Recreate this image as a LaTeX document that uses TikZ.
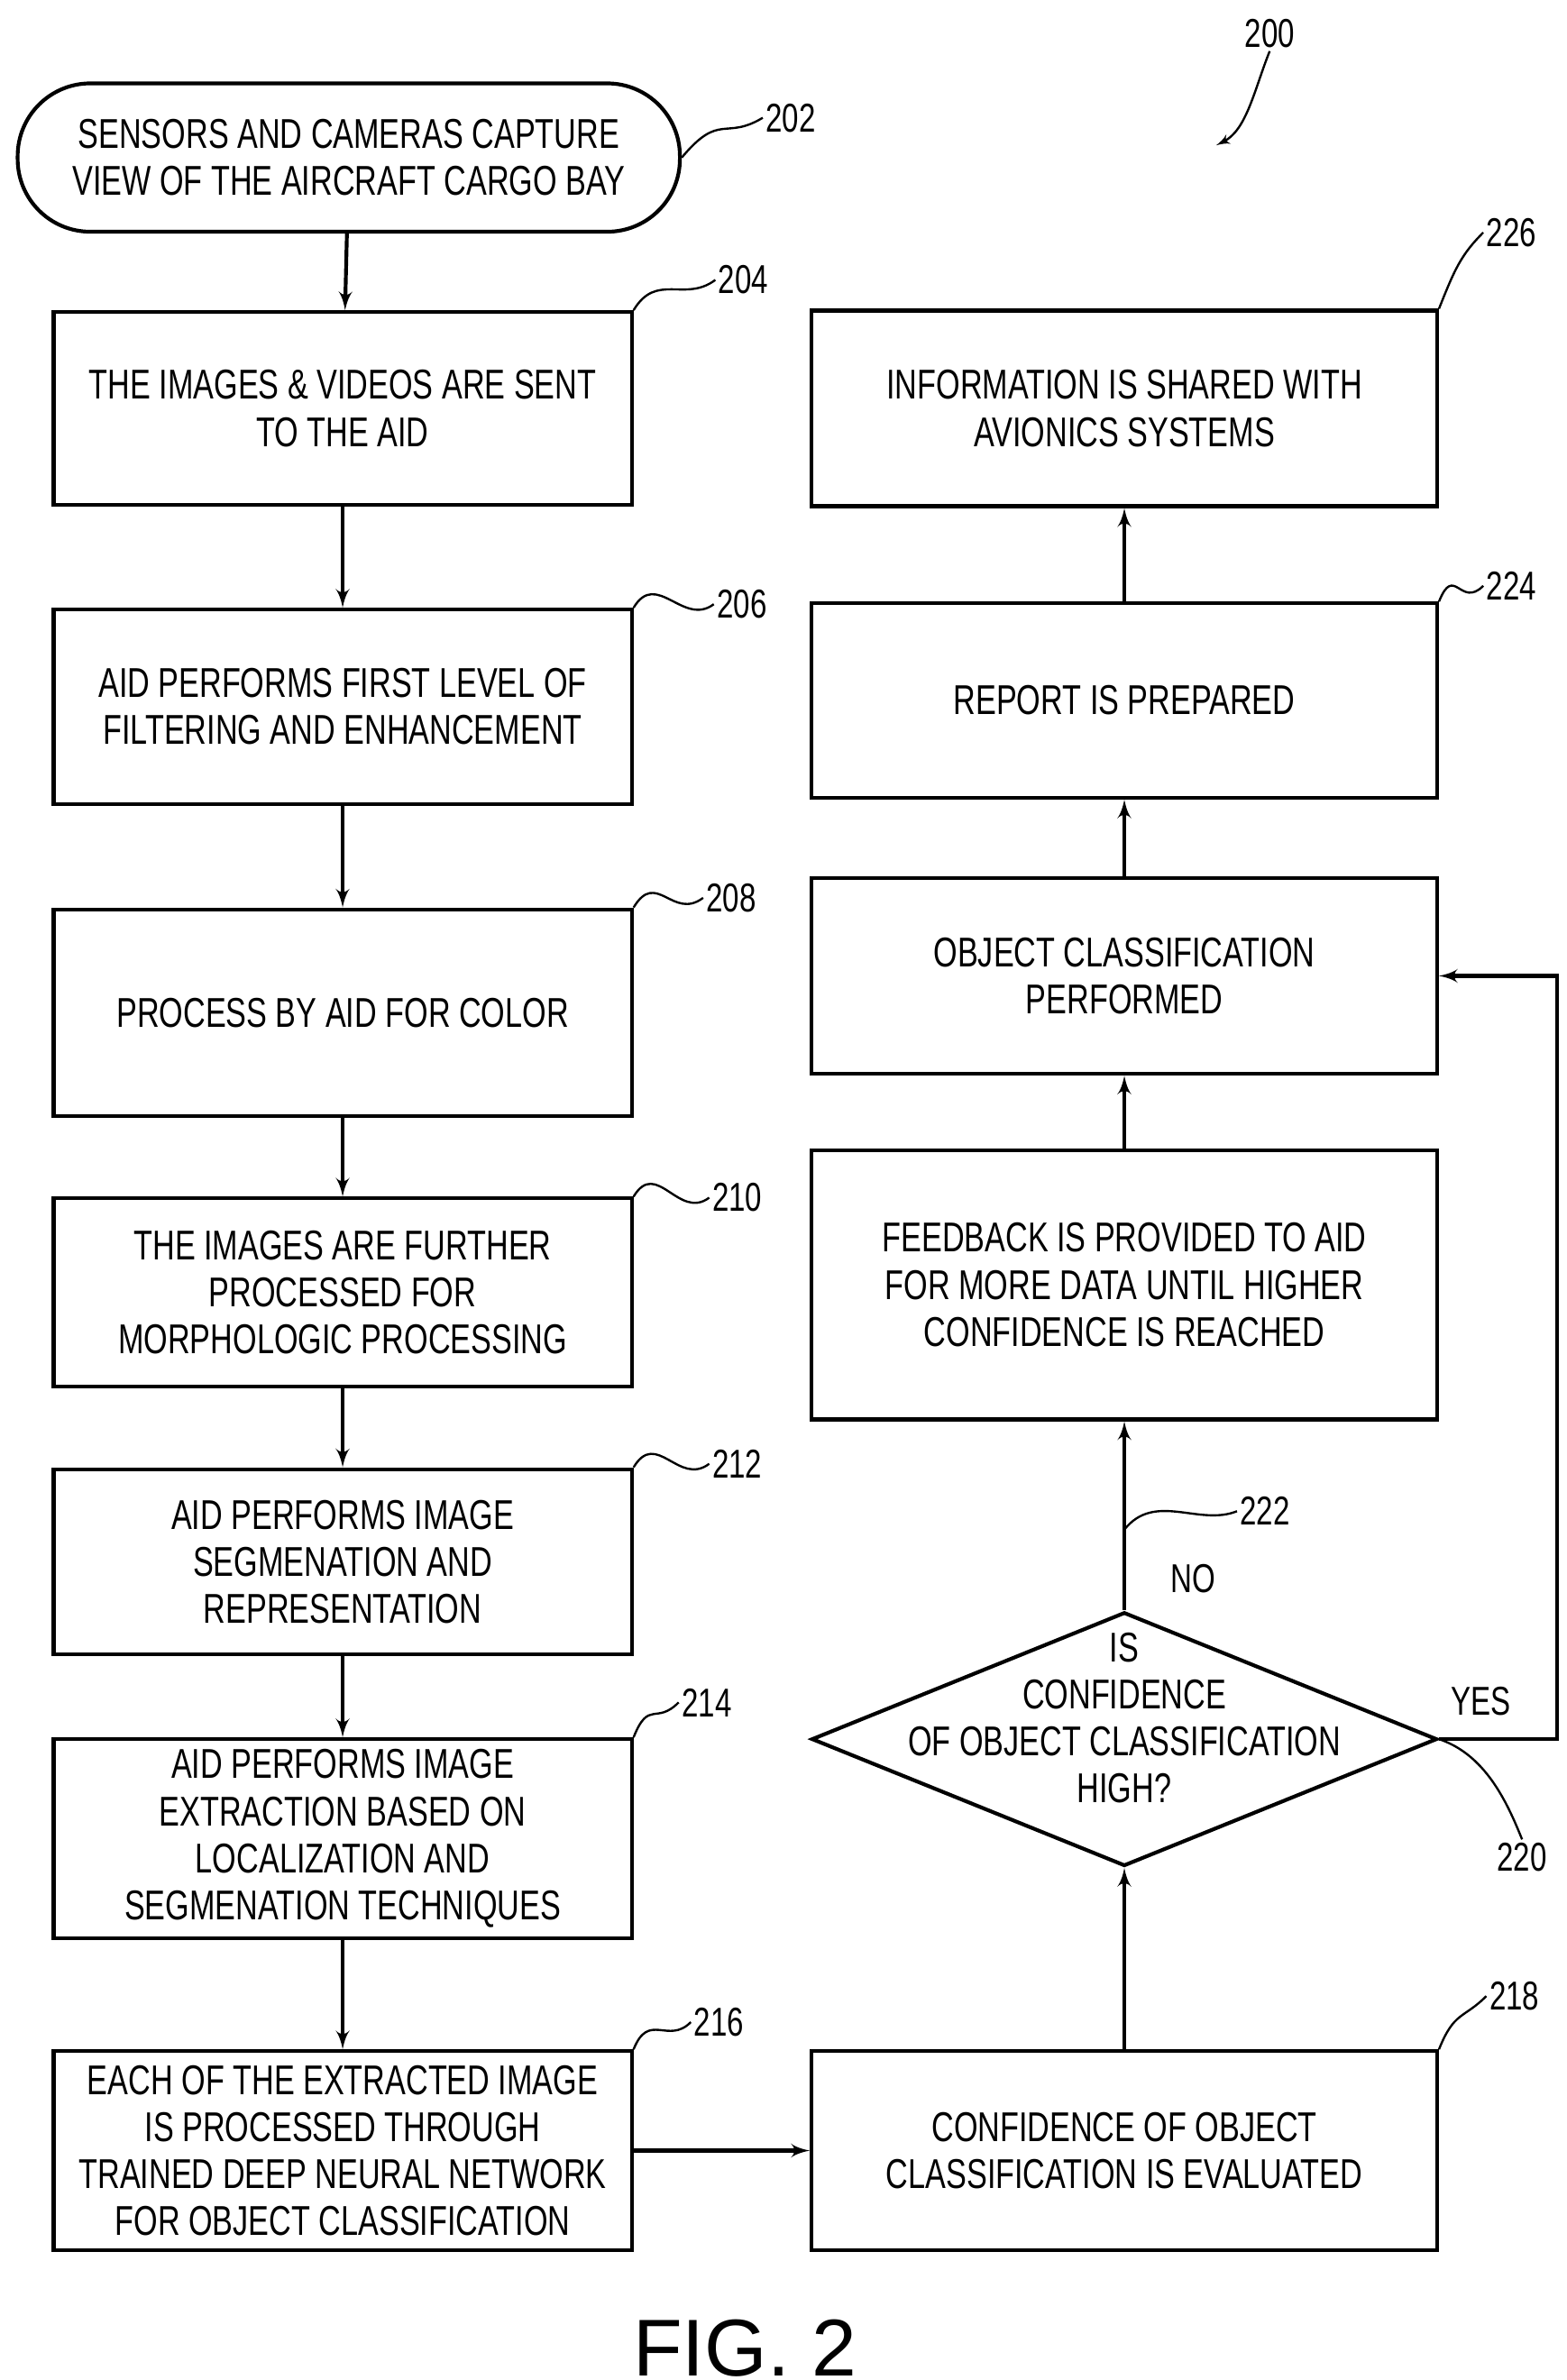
\documentclass[tikz,border=0pt]{standalone}
\usepackage{fontspec}
\setmainfont{Liberation Sans}[FakeStretch=0.74]
\newfontfamily\figfont{Liberation Sans}
\usetikzlibrary{arrows, positioning, shapes}

\tikzset{
  stepbox/.style={draw, rectangle, line width=1.4pt, minimum width=7.56cm, align=center, inner sep=0pt,
               font=\fontsize{15.5}{17.5}\selectfont},
  refnum/.style={font=\fontsize{15}{17}\selectfont, inner sep=1pt},
  squig/.style={line width=0.8pt},
  flow/.style={draw, line width=1.4pt, -latex'}
}

\begin{document}
\begin{tikzpicture}[x=0.02cm, y=-0.02cm]
\useasboundingbox (0,0) rectangle (1024,1556);

% left column
\node [stepbox, rounded corners=0.95cm, minimum width=8.66cm, minimum height=1.94cm] (s202) at (228,103) {SENSORS AND CAMERAS CAPTURE\\VIEW OF THE AIRCRAFT CARGO BAY};
\node [stepbox, minimum height=2.52cm] (s204) at (224,267)  {THE IMAGES \& VIDEOS ARE SENT\\TO THE AID};
\node [stepbox, minimum height=2.54cm] (s206) at (224,462)  {AID PERFORMS FIRST LEVEL OF\\FILTERING AND ENHANCEMENT};
\node [stepbox, minimum height=2.70cm] (s208) at (224,662)  {PROCESS BY AID FOR COLOR};
\node [stepbox, minimum height=2.46cm] (s210) at (224,845)  {THE IMAGES ARE FURTHER\\PROCESSED FOR\\MORPHOLOGIC PROCESSING};
\node [stepbox, minimum height=2.42cm] (s212) at (224,1021) {AID PERFORMS IMAGE\\SEGMENATION AND\\REPRESENTATION};
\node [stepbox, minimum height=2.60cm] (s214) at (224,1202) {AID PERFORMS IMAGE\\EXTRACTION BASED ON\\LOCALIZATION AND\\SEGMENATION TECHNIQUES};
\node [stepbox, minimum height=2.60cm] (s216) at (224,1406) {EACH OF THE EXTRACTED IMAGE\\IS PROCESSED THROUGH\\TRAINED DEEP NEURAL NETWORK\\FOR OBJECT CLASSIFICATION};

% right column
\node [stepbox, minimum width=8.18cm, minimum height=2.60cm] (s218) at (735,1406) {CONFIDENCE OF OBJECT\\CLASSIFICATION IS EVALUATED};
\node [draw, diamond, line width=1.4pt, minimum width=8.18cm, minimum height=3.32cm, inner sep=0pt] (s220) at (735,1137) {};
\node [align=center, font=\fontsize{15.5}{17.5}\selectfont] (t220) at (735,1123) {IS\\CONFIDENCE\\OF OBJECT CLASSIFICATION\\HIGH?};
\node [stepbox, minimum width=8.18cm, minimum height=3.52cm] (s222) at (735,840) {FEEDBACK IS PROVIDED TO AID\\FOR MORE DATA UNTIL HIGHER\\CONFIDENCE IS REACHED};
\node [stepbox, minimum width=8.18cm, minimum height=2.56cm] (s223) at (735,638) {OBJECT CLASSIFICATION\\PERFORMED};
\node [stepbox, minimum width=8.18cm, minimum height=2.54cm] (s224) at (735,458) {REPORT IS PREPARED};
\node [stepbox, minimum width=8.18cm, minimum height=2.56cm] (s226) at (735,267) {INFORMATION IS SHARED WITH\\AVIONICS SYSTEMS};

\path [flow] (s202) edge (s204);
\path [flow] (s204) edge (s206);
\path [flow] (s206) edge (s208);
\path [flow] (s208) edge (s210);
\path [flow] (s210) edge (s212);
\path [flow] (s212) edge (s214);
\path [flow] (s214) edge (s216);
\path [flow] (s216) edge (s218);
\path [flow] (s218) edge (s220);
\path [flow] (s220) edge (s222);
\path [flow] (s222) edge (s223);
\path [flow] (s223) edge (s224);
\path [flow] (s224) edge (s226);
\draw [flow] (s220.east) -- (1018,1137) |- (s223.east);

\node [refnum] (yes) at (968,1112) {YES};
\node [refnum] (no)  at (780,1032) {NO};

% reference numerals
\node [refnum] (l200) at (830,22)   {200};
\node [refnum] (l202) at (517,77)   {202};
\node [refnum] (l204) at (486,183)  {204};
\node [refnum] (l206) at (485,395)  {206};
\node [refnum] (l208) at (478,587)  {208};
\node [refnum] (l210) at (482,783)  {210};
\node [refnum] (l212) at (482,957)  {212};
\node [refnum] (l214) at (462,1113) {214};
\node [refnum] (l216) at (470,1322) {216};
\node [refnum] (l218) at (990,1305) {218};
\node [refnum] (l220) at (995,1214) {220};
\node [refnum] (l222) at (827,988)  {222};
\node [refnum] (l224) at (988,383)  {224};
\node [refnum] (l226) at (988,152)  {226};

\coordinate (c222) at (735,1000);
\draw [squig] (s202.east) .. controls +(25,-30) and +(-25,15) .. (l202.west);
\draw [squig] (s204.north east) .. controls +(15,-25) and +(-20,15) .. (l204.west);
\draw [squig] (s206.north east) .. controls +(15,-25) and +(-20,15) .. (l206.west);
\draw [squig] (s208.north east) .. controls +(15,-25) and +(-20,15) .. (l208.west);
\draw [squig] (s210.north east) .. controls +(15,-25) and +(-20,15) .. (l210.west);
\draw [squig] (s212.north east) .. controls +(15,-25) and +(-20,15) .. (l212.west);
\draw [squig] (s214.north east) .. controls +(10,-25) and +(-15,15) .. (l214.west);
\draw [squig] (s216.north east) .. controls +(10,-25) and +(-15,15) .. (l216.west);
\draw [squig] (s218.north east) .. controls +(10,-25) and +(-15,15) .. (l218.west);
\draw [squig] (s224.north east) .. controls +(10,-25) and +(-15,15) .. (l224.west);
\draw [squig] (s226.north east) .. controls +(10,-25) and +(-15,15) .. (l226.west);
\draw [squig] (c222) .. controls +(20,-25) and +(-25,10) .. (l222.west);
\draw [squig] (s220.east) .. controls +(30,10) and +(-10,-25) .. (l220.north);
\draw [squig, -latex'] (l200.south) .. controls +(-10,25) and +(20,-10) .. (795,95);

\node [font=\figfont\fontsize{30}{34}\selectfont] (fig) at (487,1535) {FIG. 2};
\end{tikzpicture}
\end{document}
